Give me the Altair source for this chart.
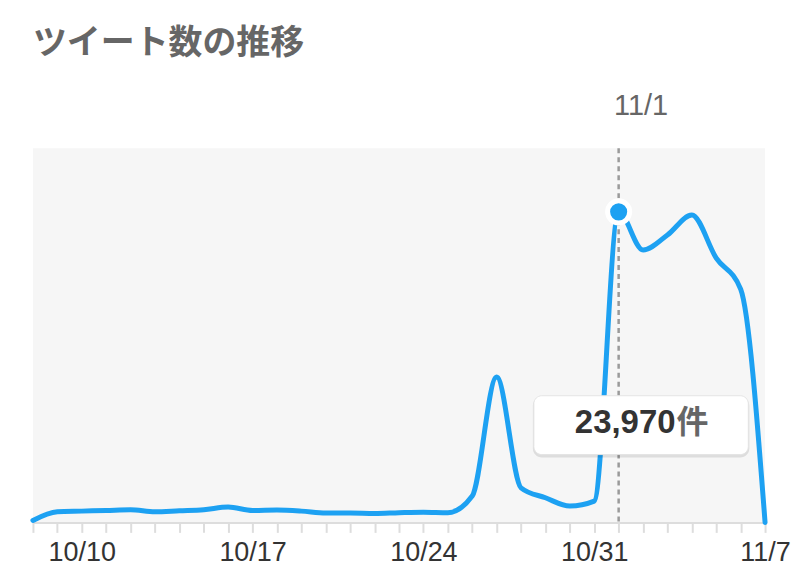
import json
import altair as alt
import pandas as pd

# ---- data ----
dates = [
    "2022-10-08", "2022-10-09", "2022-10-10", "2022-10-11", "2022-10-12",
    "2022-10-13", "2022-10-14", "2022-10-15", "2022-10-16", "2022-10-17",
    "2022-10-18", "2022-10-19", "2022-10-20", "2022-10-21", "2022-10-22",
    "2022-10-23", "2022-10-24", "2022-10-25", "2022-10-26", "2022-10-27",
    "2022-10-28", "2022-10-29", "2022-10-30", "2022-10-31", "2022-11-01",
    "2022-11-02", "2022-11-03", "2022-11-04", "2022-11-05", "2022-11-06",
    "2022-11-07",
]
tweets = [
    150, 820, 870, 920, 980, 820, 900, 980, 1180, 920,
    950, 870, 720, 720, 690, 750, 790, 750, 2030, 11220,
    2670, 1900, 1260, 1640, 23970, 21020, 22180, 23720, 20400, 18000,
    0,
]
tick_labels = ["10/10", "10/17", "10/24", "10/31", "11/7"]
highlight_date = "2022-11-01"
highlight_value = 23970
highlight_text = "23,970"
unit_text = "件"
title_text = "ツイート数の推移"
y_max = 28870

BLUE = "#1da1f2"

df = pd.DataFrame({"date": dates, "count": tweets})
hl = pd.DataFrame({
    "date": [highlight_date],
    "count": [highlight_value],
    "num": [highlight_text],
    "unit": [unit_text],
})

day_ms = [int(pd.Timestamp(d, tz="UTC").timestamp() * 1000) for d in dates]
hl_ms = int(pd.Timestamp(highlight_date, tz="UTC").timestamp() * 1000)

x_scale = alt.Scale(type="utc", nice=False)
y_scale = alt.Scale(domain=[0, y_max], nice=False, zero=True)

label_expr = (
    "indexof(" + json.dumps(tick_labels) + ", datum.label) >= 0 ? datum.label : ''"
)

bottom_axis = alt.Axis(
    values=day_ms,
    format="%-m/%-d",
    labelExpr=label_expr,
    labelOverlap=False,
    labelFlush=False,
    labelBound=False,
    labelFont="Liberation Sans",
    labelFontSize=27,
    labelColor="#333333",
    labelPadding=7,
    tickColor="#dddddd",
    tickWidth=2,
    tickSize=10,
    domainColor="#dddddd",
    domainWidth=2,
    grid=False,
    title=None,
)

top_axis = alt.Axis(
    orient="top",
    values=[hl_ms],
    format="%-m/%-d",
    labelFont="Liberation Sans",
    labelFontSize=29,
    labelColor="#666666",
    labelBaseline="alphabetic",
    labelAlign="center",
    labelOffset=22,
    labelPadding=34,
    ticks=False,
    domain=False,
    grid=False,
    title=None,
)

y_axis = alt.Axis(
    labels=False, ticks=False, grid=False, title=None,
    domainColor="#dddddd", domainWidth=2,
)

line = alt.Chart(df).mark_line(
    color=BLUE, strokeWidth=5, interpolate="monotone", strokeCap="round"
).encode(
    x=alt.X("date:T", scale=x_scale, axis=bottom_axis),
    y=alt.Y("count:Q", scale=y_scale, axis=y_axis),
)

rule = alt.Chart(hl).mark_rule(
    color="#9a9a9a", strokeWidth=2.5, strokeDash=[5, 4]
).encode(
    x=alt.X("date:T", axis=top_axis),
)

point = alt.Chart(hl).mark_circle(
    size=490, color=BLUE, opacity=1, stroke="white", strokeWidth=5
).encode(
    x=alt.X("date:T", axis=None),
    y=alt.Y("count:Q", axis=None),
)

shadow = alt.Chart(hl).mark_rect(
    cornerRadius=9, fill="#000000", opacity=0.10, xOffset=-86, x2Offset=131
).encode(
    x=alt.X("date:T", axis=None),
    x2="date:T",
    y=alt.value(249),
    y2=alt.value(310),
)

box = alt.Chart(hl).mark_rect(
    cornerRadius=8, fill="white", stroke="#e4e4e4", strokeWidth=1,
    xOffset=-85, x2Offset=130,
).encode(
    x=alt.X("date:T", axis=None),
    x2="date:T",
    y=alt.value(248),
    y2=alt.value(307),
)

num_text = alt.Chart(hl).mark_text(
    font="Liberation Sans", fontWeight="bold", fontSize=33, color="#333333",
    align="right", baseline="alphabetic", dx=57,
).encode(
    x=alt.X("date:T", axis=None),
    y=alt.value(285),
    text="num:N",
)

unit_mark = alt.Chart(hl).mark_text(
    font="Noto Sans CJK JP", fontWeight="bold", fontSize=32, color="#666666",
    align="left", baseline="alphabetic", dx=58,
).encode(
    x=alt.X("date:T", axis=None),
    y=alt.value(285),
    text="unit:N",
)

chart = alt.layer(
    line, rule, point, shadow, box, num_text, unit_mark
).resolve_scale(
    x="shared"
).resolve_axis(
    x="independent"
).properties(
    width=734,
    height=375,
    autosize=alt.AutoSizeParams(type="none"),
    padding={"left": 25, "top": 140, "right": 27, "bottom": 43},
    title=alt.TitleParams(
        text=title_text,
        anchor="start",
        frame="group",
        font="Noto Sans CJK JP",
        fontSize=34,
        fontWeight="bold",
        color="#666666",
        dy=-27,
    ),
).configure_view(
    fill="#f6f6f6", stroke=None
)

chart.save("out.html", embed_options={"renderer": "svg", "actions": False})
